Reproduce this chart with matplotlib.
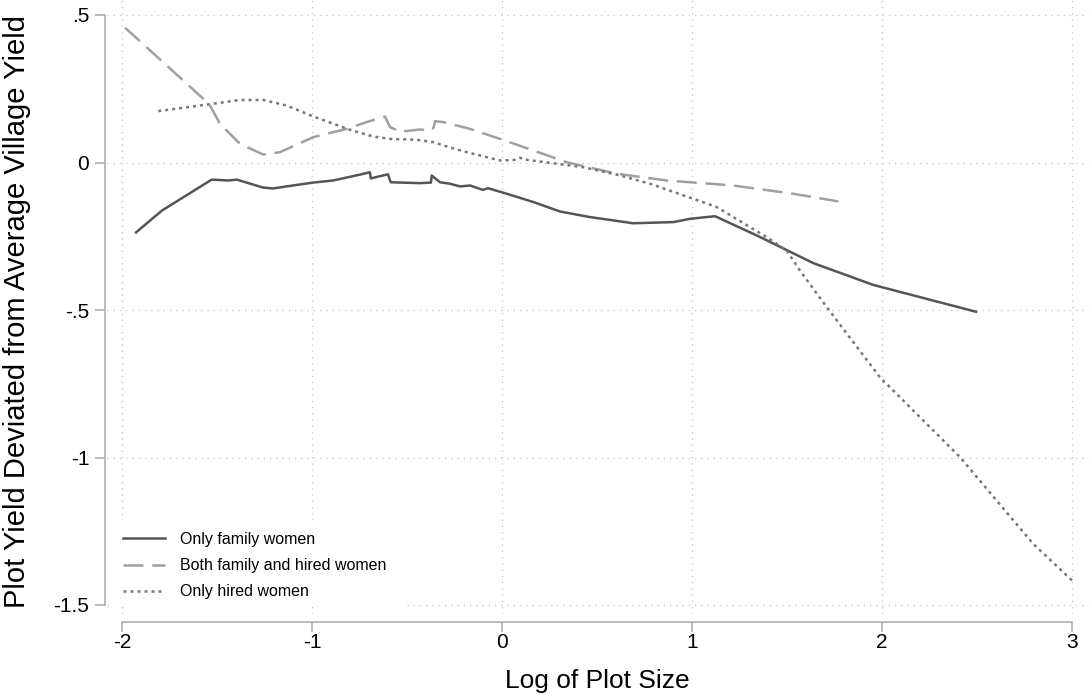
import numpy as np
import matplotlib
matplotlib.use("Agg")
import matplotlib.pyplot as plt
from matplotlib.patches import Rectangle

# values
fam_x = [-1.926, -1.79, -1.528, -1.44, -1.396, -1.257, -1.205, -1.133, -0.994, -0.889,
         -0.747, -0.695, -0.691, -0.607, -0.6, -0.586, -0.432, -0.374, -0.37, -0.326,
         -0.274, -0.221, -0.168, -0.1, -0.074, 0.025, 0.165, 0.305, 0.463, 0.691,
         0.902, 0.989, 1.121, 1.35, 1.638, 1.954, 2.495]
fam_y = [-0.237, -0.163, -0.058, -0.061, -0.058, -0.085, -0.088, -0.081, -0.068, -0.061,
         -0.041, -0.033, -0.054, -0.041, -0.04, -0.067, -0.070, -0.068, -0.044, -0.067,
         -0.072, -0.081, -0.078, -0.093, -0.087, -0.106, -0.134, -0.166, -0.185, -0.206,
         -0.202, -0.191, -0.182, -0.25, -0.341, -0.415, -0.506]

both_x = [-1.984, -1.572, -1.537, -1.484, -1.379, -1.256, -1.168, -0.993, -0.817, -0.712,
          -0.616, -0.589, -0.537, -0.432, -0.379, -0.36, -0.353, -0.309, -0.168, -0.011,
          0.165, 0.34, 0.604, 0.867, 1.218, 1.533, 1.77]
both_y = [0.457, 0.216, 0.193, 0.131, 0.063, 0.027, 0.035, 0.086, 0.114, 0.137,
          0.156, 0.12, 0.104, 0.112, 0.108, 0.118, 0.14, 0.137, 0.114, 0.080,
          0.041, 0.001, -0.038, -0.061, -0.078, -0.106, -0.132]

hired_x = [-1.809, -1.546, -1.379, -1.256, -1.133, -0.993, -0.8, -0.677, -0.589, -0.449,
           -0.361, -0.31, -0.186, -0.011, 0.06, 0.095, 0.12, 0.428, 0.604, 0.779,
           1.007, 1.13, 1.393, 1.498, 1.568, 1.709, 1.989, 2.411, 2.796, 3.004]
hired_y = [0.174, 0.197, 0.212, 0.212, 0.193, 0.156, 0.111, 0.088, 0.080, 0.077,
           0.069, 0.058, 0.035, 0.007, 0.008, 0.016, 0.01, -0.016, -0.041, -0.072,
           -0.123, -0.151, -0.253, -0.298, -0.366, -0.49, -0.728, -0.999, -1.293, -1.419]

labels = ["Only family women", "Both family and hired women", "Only hired women"]
xticks = [-2, -1, 0, 1, 2, 3]
xtick_labels = ["-2", "-1", "0", "1", "2", "3"]
yticks = [0.5, 0, -0.5, -1, -1.5]
ytick_labels = [".5", "0", "-.5", "-1", "-1.5"]

plt.rcParams["font.family"] = ["Liberation Sans", "DejaVu Sans"]
plt.rcParams["axes.unicode_minus"] = False

W, H = 1089, 694
fig = plt.figure(figsize=(W / 100, H / 100), dpi=100)
# axes box in pixels: left 107, right 1089, top 0, bottom 614
ax = fig.add_axes([107 / W, (H - 614) / H, 982 / W, 614 / H])

ax.set_xlim(-2 + (107 - 122) / 190, -2 + (1089 - 122) / 190)
ax.set_ylim(0.5 - (614 - 15) / 295, 0.5 + 15 / 295)

grey = "#a8a8a8"
for s in ["top", "right"]:
    ax.spines[s].set_visible(False)
ax.spines["left"].set_position(("outward", 1.5))
ax.spines["bottom"].set_position(("outward", 5.8))
ax.spines["left"].set_bounds(-1.5, 0.5)
ax.spines["bottom"].set_bounds(-2, 3)
for s in ["left", "bottom"]:
    ax.spines[s].set_color(grey)
    ax.spines[s].set_linewidth(1.1)

ax.set_xticks(xticks)
ax.set_xticklabels(xtick_labels)
ax.set_yticks(yticks)
ax.set_yticklabels(ytick_labels)
ax.tick_params(axis="both", length=7, width=1.1, color=grey, labelsize=15)
ax.tick_params(axis="x", pad=1.2)
ax.tick_params(axis="y", pad=4.3)

ax.set_axisbelow(True)
ax.grid(True, color="#c4c4c4", linestyle=(0, (1, 4)), linewidth=0.9)

# white legend area hides the grid
ax.add_patch(Rectangle((0.006, 0.011), 0.2975, 0.142, transform=ax.transAxes,
                       facecolor="white", edgecolor="none", zorder=1))

ax.plot(fam_x, fam_y, color="#555555", lw=1.8, label=labels[0], zorder=3)
ax.plot(both_x, both_y, color="#a0a0a0", lw=1.8, linestyle=(0, (8, 3.5)), label=labels[1], zorder=3)
ax.plot(hired_x, hired_y, color="#777777", lw=1.8, linestyle=(0, (1.2, 1.6)), label=labels[2], zorder=3)

leg = ax.legend(loc="upper left", bbox_to_anchor=((123 - 107) / 982, (614 - 532) / 614),
                frameon=False, fontsize=11.5, handlelength=2.6, handletextpad=1.0,
                labelspacing=0.7, borderpad=0, borderaxespad=0)
leg.set_zorder(4)

fig.text(597 / W, (H - 688) / H, "Log of Plot Size", fontsize=19, ha="center", va="baseline")
fig.text(17 / W, (H - 311) / H, "Plot Yield Deviated from Average Village Yield",
         fontsize=21, rotation=90, ha="center", va="center")

fig.savefig("out.png", dpi=100)
